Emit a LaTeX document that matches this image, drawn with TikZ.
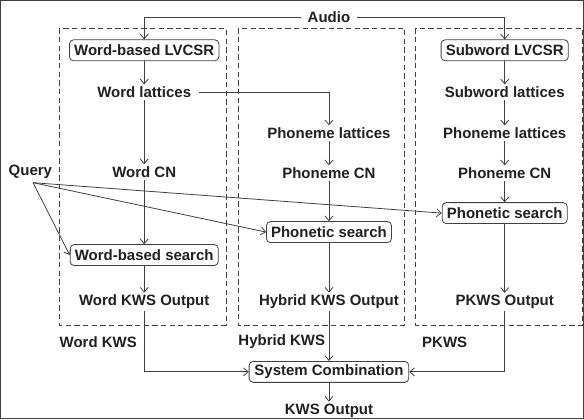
\documentclass[tikz,border=0pt]{standalone}
\usepackage{fontspec}
\setmainfont{Liberation Sans}
\usepackage{tikz}
\usetikzlibrary{positioning,arrows.meta}

\definecolor{txt}{HTML}{231F20}
\definecolor{ln}{HTML}{404040}

\begin{document}
\begin{tikzpicture}[x=0.75pt, y=-0.75pt, >={Straight Barb[length=3.5pt,width=6pt]},
                    font=\fontsize{11.25}{13}\selectfont\bfseries,
                    every node/.style={text=txt, inner sep=1.5pt},
                    proc/.style={draw=ln, line width=0.6pt, rounded corners=3pt, inner xsep=3.5pt, minimum height=15.75pt},
                    every path/.style={draw=ln, line width=0.6pt}]
                    \useasboundingbox (0,0) rectangle (584,419);

                    % dashed system boxes
                    \draw[dashed, dash pattern=on 4pt off 2.5pt] (59,28) rectangle (226,325);
                    \draw[dashed, dash pattern=on 4pt off 2.5pt] (238,28) rectangle (405,325);
                    \draw[dashed, dash pattern=on 4pt off 2.5pt] (416,28) rectangle (583,325);

                    \node[inner xsep=5pt] (audio) at (329,17) {Audio};
                    \node (query) at (30,172) {Query};

                    % word column
                    \node[proc] (lvcsrW) at (144,50) {Word-based LVCSR};
                    \node (latW) at (144,92) {Word lattices};
                    \node (cnW) at (144,172) {Word CN};
                    \node[proc] (searchW) at (144,255) {Word-based search};
                    \node (outW) at (144,302) {Word KWS Output};
                    \node[anchor=west, inner xsep=0pt] (labW) at (59,342) {Word KWS};

                    % hybrid column
                    \node (latH) at (329,133) {Phoneme lattices};
                    \node (cnH) at (329,173) {Phoneme CN};
                    \node[proc] (searchH) at (329,232) {Phonetic search};
                    \node (outH) at (329,302) {Hybrid KWS Output};
                    \node[anchor=west, inner xsep=0pt] (labH) at (238,342) {Hybrid KWS};

                    % subword column
                    \node[proc] (lvcsrP) at (505,50) {Subword LVCSR};
                    \node (sublatP) at (505,92) {Subword lattices};
                    \node (latP) at (505,133) {Phoneme lattices};
                    \node (cnP) at (505,173) {Phoneme CN};
                    \node[proc] (searchP) at (505,213) {Phonetic search};
                    \node (outP) at (505,302) {PKWS Output};
                    \node[anchor=west, inner xsep=0pt] (labP) at (422,342) {PKWS};

                    \node[proc, inner xsep=4pt] (comb) at (329,372) {System Combination};
                    \node (final) at (329,411) {KWS Output};

                    \draw[->] (audio.west) -| (lvcsrW.north);
                    \draw[->] (audio.east) -| (lvcsrP.north);

                    \draw[->] (lvcsrW) -- (latW);
                    \draw[->] (latW) -- (cnW);
                    \draw[->] (cnW) -- (searchW);
                    \draw[->] (searchW) -- (outW);

                    \draw[->] ([xshift=4pt]latW.east) -| (latH.north);
                    \draw[->] (latH) -- (cnH);
                    \draw[->] (cnH) -- (searchH);
                    \draw[->] (searchH) -- (outH);

                    \draw[->] (lvcsrP) -- (sublatP);
                    \draw[->] (sublatP) -- (latP);
                    \draw[->] (latP) -- (cnP);
                    \draw[->] (cnP) -- (searchP);
                    \draw[->] (searchP) -- (outP);

                    \draw[->] ([xshift=2pt,yshift=-1pt]query.south) -- (searchW.west);
                    \draw[->] ([xshift=2pt,yshift=-1pt]query.south) -- (searchH.west);
                    \draw[->] ([xshift=2pt,yshift=-1pt]query.south) -- (searchP.west);

                    \draw[->] (outW.south) |- (comb.west);
                    \draw[->] (outP.south) |- (comb.east);
                    \draw[->] (outH) -- (comb);
                    \draw[->] (comb) -- (final);
                \end{tikzpicture}
\end{document}
